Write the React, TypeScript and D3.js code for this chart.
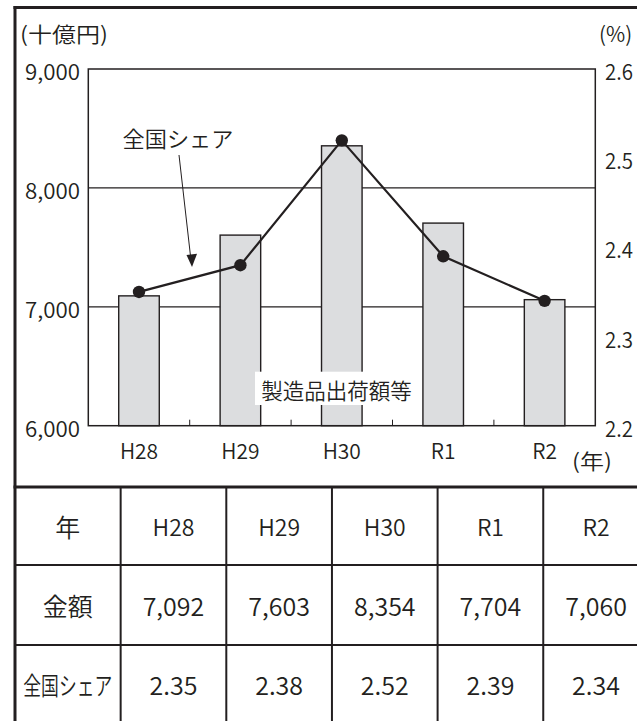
import { useEffect, useRef } from 'react'
import * as d3 from 'd3'

const YEARS = ['H28', 'H29', 'H30', 'R1', 'R2']
const AMOUNTS = [7092, 7603, 8354, 7704, 7060]
const SHARES = [2.35, 2.38, 2.52, 2.39, 2.34]
const AMOUNT_TICKS = [6000, 7000, 8000, 9000]
const SHARE_TICKS = [2.2, 2.3, 2.4, 2.5, 2.6]
const ROW_LABELS = ['年', '金額', '全国シェア']

const W = 637
const H = 721
const INK = '#231f20'
const FONT = '"Noto Sans CJK JP", "Noto Sans", sans-serif'

export default function App() {
  const svgRef = useRef<SVGSVGElement>(null)

  useEffect(() => {
    if (!svgRef.current) return
    const svg = d3.select(svgRef.current)
    svg.selectAll('*').remove()

    const plot = { left: 88.3, right: 595.3, top: 69, bottom: 425.7 }

    const x = d3.scaleBand<string>()
      .domain(YEARS)
      .range([plot.left, plot.right])
      .paddingInner(0.6)
      .paddingOuter(0.3)
    const yL = d3.scaleLinear().domain([6000, 9000]).range([plot.bottom, plot.top])
    const yR = d3.scaleLinear().domain([2.2, 2.6]).range([plot.bottom, plot.top])

    const g = svg.append('g')
      .style('font-family', FONT)
      .style('font-weight', '350')
      .style('fill', INK)

    // gridlines (behind bars)
    AMOUNT_TICKS.slice(1, -1).forEach((t) => {
      g.append('line')
        .attr('x1', plot.left).attr('x2', plot.right)
        .attr('y1', yL(t)).attr('y2', yL(t))
        .attr('stroke', INK).attr('stroke-width', 1.3)
    })

    // bars
    YEARS.forEach((yr, i) => {
      g.append('rect')
        .attr('x', x(yr)!)
        .attr('y', yL(AMOUNTS[i]))
        .attr('width', x.bandwidth())
        .attr('height', plot.bottom - yL(AMOUNTS[i]))
        .attr('fill', '#dcdddf')
        .attr('stroke', INK)
        .attr('stroke-width', 1.4)
    })

    // plot frame
    g.append('rect')
      .attr('x', plot.left).attr('y', plot.top)
      .attr('width', plot.right - plot.left)
      .attr('height', plot.bottom - plot.top)
      .attr('fill', 'none')
      .attr('stroke', INK)
      .attr('stroke-width', 1.5)

    // small ticks at category boundaries
    for (let i = 1; i < YEARS.length; i++) {
      const bx = plot.left + i * x.step()
      g.append('line')
        .attr('x1', bx).attr('x2', bx)
        .attr('y1', plot.bottom).attr('y2', plot.bottom - 6)
        .attr('stroke', INK).attr('stroke-width', 1)
    }

    // left axis labels
    AMOUNT_TICKS.forEach((t) => {
      g.append('text')
        .attr('x', 80).attr('y', yL(t) + 1)
        .attr('text-anchor', 'end')
        .attr('dominant-baseline', 'central')
        .attr('textLength', 55).attr('lengthAdjust', 'spacingAndGlyphs')
        .style('font-size', '22px')
        .text(d3.format(',')(t))
    })

    // right axis labels
    SHARE_TICKS.forEach((t) => {
      g.append('text')
        .attr('x', 605).attr('y', yR(t) + 1)
        .attr('dominant-baseline', 'central')
        .attr('textLength', 28).attr('lengthAdjust', 'spacingAndGlyphs')
        .style('font-size', '22px')
        .text(d3.format('.1f')(t))
    })

    // x labels
    YEARS.forEach((yr) => {
      g.append('text')
        .attr('x', x(yr)! + x.bandwidth() / 2)
        .attr('y', 450)
        .attr('text-anchor', 'middle')
        .attr('dominant-baseline', 'central')
        .style('font-size', '21px')
        .text(yr)
    })

    // unit labels
    g.append('text').attr('x', 20).attr('y', 33)
      .attr('dominant-baseline', 'central')
      .attr('textLength', 88).attr('lengthAdjust', 'spacingAndGlyphs')
      .style('font-size', '21px').text('(十億円)')
    g.append('text').attr('x', 599).attr('y', 33)
      .attr('dominant-baseline', 'central')
      .style('font-size', '21px').text('(%)')
    g.append('text').attr('x', 572).attr('y', 460)
      .attr('dominant-baseline', 'central')
      .attr('textLength', 40).attr('lengthAdjust', 'spacingAndGlyphs')
      .style('font-size', '21px').text('(年)')

    // share line
    const line = d3.line<number>()
      .x((_, i) => x(YEARS[i])! + x.bandwidth() / 2)
      .y((d) => yR(d))
    g.append('path')
      .datum(SHARES)
      .attr('d', line)
      .attr('fill', 'none')
      .attr('stroke', INK)
      .attr('stroke-width', 2.2)
    SHARES.forEach((s, i) => {
      g.append('circle')
        .attr('cx', x(YEARS[i])! + x.bandwidth() / 2)
        .attr('cy', yR(s))
        .attr('r', 6.2)
        .attr('fill', INK)
    })

    // annotation: series label for the bars
    g.append('rect')
      .attr('x', 255).attr('y', 371.7)
      .attr('width', 163).attr('height', 33.3)
      .attr('fill', '#fff')
    g.append('text')
      .attr('x', 336.5).attr('y', 389)
      .attr('text-anchor', 'middle')
      .attr('dominant-baseline', 'central')
      .style('font-size', '21.5px')
      .text('製造品出荷額等')

    // annotation: share label + arrow
    g.append('text')
      .attr('x', 178).attr('y', 137)
      .attr('text-anchor', 'middle')
      .attr('dominant-baseline', 'central')
      .attr('textLength', 111).attr('lengthAdjust', 'spacingAndGlyphs')
      .style('font-size', '22px')
      .text('全国シェア')
    g.append('line')
      .attr('x1', 179).attr('y1', 155)
      .attr('x2', 190.5).attr('y2', 256)
      .attr('stroke', INK).attr('stroke-width', 1)
    g.append('path')
      .attr('d', 'M186.5,255 L197,253.8 L192,267 Z')
      .attr('fill', INK)

    // outer frame
    g.append('line').attr('x1', 13.5).attr('x2', W).attr('y1', 7.5).attr('y2', 7.5)
      .attr('stroke', INK).attr('stroke-width', 3)
    g.append('line').attr('x1', 15).attr('x2', 15).attr('y1', 6).attr('y2', H)
      .attr('stroke', INK).attr('stroke-width', 3)

    // table
    const tableTop = 487
    const rowH = 79
    const cols = d3.scaleBand<string>()
      .domain(['label', ...YEARS])
      .range([15, 15 + 6 * 105.65])
    const rowY = (r: number) => tableTop + r * rowH + rowH / 2 - 1

    g.append('line').attr('x1', 13.5).attr('x2', W).attr('y1', tableTop).attr('y2', tableTop)
      .attr('stroke', INK).attr('stroke-width', 3)
    for (let r = 1; r < 3; r++) {
      const ly = tableTop + r * rowH + (r === 1 ? -1 : 0)
      g.append('line').attr('x1', 15).attr('x2', W).attr('y1', ly).attr('y2', ly)
        .attr('stroke', INK).attr('stroke-width', 2)
    }
    YEARS.forEach((yr) => {
      g.append('line')
        .attr('x1', cols(yr)!).attr('x2', cols(yr)!)
        .attr('y1', tableTop).attr('y2', H)
        .attr('stroke', INK).attr('stroke-width', 2)
    })

    const labelX = cols('label')! + cols.bandwidth() / 2
    ROW_LABELS.forEach((lab, r) => {
      const t = g.append('text')
        .attr('x', labelX).attr('y', rowY(r))
        .attr('text-anchor', 'middle')
        .attr('dominant-baseline', 'central')
        .style('font-size', r === 2 ? '25px' : '25px')
        .text(lab)
      if (r === 2) t.attr('textLength', 89).attr('lengthAdjust', 'spacingAndGlyphs')
    })

    const rows: string[][] = [
      YEARS,
      AMOUNTS.map((v) => d3.format(',')(v)),
      SHARES.map((v) => d3.format('.2f')(v)),
    ]
    rows.forEach((vals, r) => {
      vals.forEach((v, i) => {
        g.append('text')
          .attr('x', cols(YEARS[i])! + cols.bandwidth() / 2)
          .attr('y', rowY(r))
          .attr('text-anchor', 'middle')
          .attr('dominant-baseline', 'central')
          .style('font-size', r === 0 ? '23px' : '25px')
          .text(v)
      })
    })
  }, [])

  return (
    <div style={{ position: 'absolute', left: 0, top: 0 }}>
      <svg ref={svgRef} width={W} height={H} style={{ display: 'block', background: '#fff' }} />
    </div>
  )
}
